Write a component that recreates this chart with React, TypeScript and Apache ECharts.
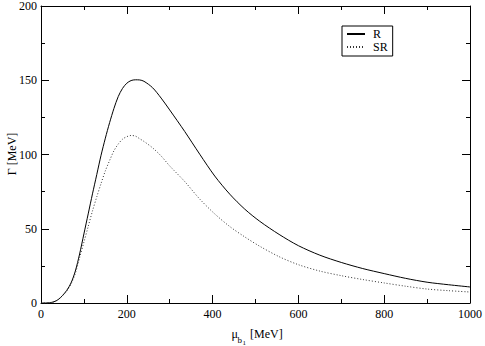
import React, { useEffect, useRef } from "react";
import * as echarts from "echarts";

const xValues = [0, 10, 20, 30, 40, 50, 60, 70, 80, 90, 100, 110, 120, 130, 140, 150, 160, 170, 180, 190, 200, 210, 220, 230, 240, 260, 280, 300, 335, 370, 405, 440, 475, 510, 555, 600, 650, 700, 750, 800, 850, 900, 950, 1000];
const rValues = [0, 0, 0.2, 0.8, 2.3, 5, 8.5, 13.5, 21.5, 33, 46.5, 60, 73.5, 86.5, 99.5, 111, 121.5, 131, 139, 144.5, 148, 149.8, 150.3, 150.2, 149.3, 145, 138, 130, 115.5, 100.2, 85.5, 73.3, 63.2, 55, 46.2, 38.6, 32.2, 27.3, 23.2, 19.8, 16.6, 14, 12.3, 10.8];
const srValues = [0, 0, 0.2, 0.8, 2.2, 4.8, 8, 12.8, 20, 30.5, 41, 51.5, 62, 71.5, 80.5, 89, 96, 102.5, 107, 110.3, 112, 112.8, 112.4, 110.6, 108.8, 104.5, 99, 92.3, 81.8, 70, 60, 51.5, 44.5, 38.2, 31.2, 25.8, 21.5, 18.4, 15.8, 13.5, 11.3, 9.4, 8.3, 7.4];
const seriesNames = ["R", "SR"];
const xTickLabels = ["0", "200", "400", "600", "800", "1000"];
const xTitle = { mu: "μ", sub: "b", subsub: "1", unit: "[MeV]" };
const yTitle = "Γ [MeV]";

const FONT = "Liberation Serif";

export default function App() {
  const ref = useRef<HTMLDivElement>(null);
  useEffect(() => {
    if (!ref.current) return;
    const chart = echarts.init(ref.current, undefined, { renderer: "svg" });
    const axisCommon = {
      type: "value" as const,
      axisLine: { show: true, onZero: false, lineStyle: { color: "#000", width: 1 } },
      axisTick: { show: true, inside: true, length: 8, lineStyle: { color: "#000", width: 1 } },
      minorTick: { show: true, splitNumber: 2, length: 4, lineStyle: { color: "#000", width: 1 } },
      splitLine: { show: false },
      minorSplitLine: { show: false },
    };
    const xAxisBase = { ...axisCommon, min: 0, max: 1000, interval: 200 };
    const yAxisBase = { ...axisCommon, min: 0, max: 200, interval: 50 };
    chart.setOption({
      animation: false,
      backgroundColor: "#fff",
      textStyle: { fontFamily: FONT },
      grid: { left: 41, right: 13, top: 5, bottom: 43, containLabel: false },
      xAxis: [
        {
          ...xAxisBase,
          position: "bottom",
          axisLabel: {
            show: true,
            color: "#000",
            fontFamily: FONT,
            fontSize: 12,
            margin: 5,
            formatter: (v: number) => xTickLabels[Math.round(v / 200)] ?? String(v),
          },
        },
        { ...xAxisBase, position: "top", axisLabel: { show: false } },
      ],
      yAxis: [
        {
          ...yAxisBase,
          position: "left",
          axisLabel: { show: true, color: "#000", fontFamily: FONT, fontSize: 12, margin: 4 },
        },
        { ...yAxisBase, position: "right", axisLabel: { show: false } },
      ],
      legend: {
        show: true,
        orient: "vertical",
        left: 342,
        top: 26,
        itemWidth: 18,
        itemHeight: 10,
        itemGap: 1,
        padding: [2, 5, 3, 4],
        borderColor: "#000",
        borderWidth: 1,
        backgroundColor: "#fff",
        itemStyle: { opacity: 0 },
        textStyle: { color: "#000", fontFamily: FONT, fontSize: 12, padding: [0, 0, 0, 3] },
        data: seriesNames,
      },
      series: [
        {
          name: seriesNames[0],
          type: "line",
          data: xValues.map((x, i) => [x, rValues[i]]),
          symbol: "none",
          smooth: 0.3,
          lineStyle: { color: "#000", width: 1, type: "solid" },
          itemStyle: { color: "#000" },
        },
        {
          name: seriesNames[1],
          type: "line",
          data: xValues.map((x, i) => [x, srValues[i]]),
          symbol: "none",
          smooth: 0.3,
          lineStyle: { color: "#333", width: 1, type: [1, 2] },
          itemStyle: { color: "#333" },
        },
      ],
      graphic: [
        {
          type: "text",
          x: 12,
          y: 154,
          rotation: Math.PI / 2,
          style: { text: yTitle, fill: "#000", fontFamily: FONT, fontSize: 12, align: "center", verticalAlign: "middle" },
        },
        {
          type: "text",
          x: 231.5,
          y: 334,
          style: { text: xTitle.mu, fill: "#000", fontFamily: FONT, fontSize: 12, align: "left", verticalAlign: "middle" },
        },
        {
          type: "text",
          x: 237.5,
          y: 340,
          style: { text: xTitle.sub, fill: "#000", fontFamily: FONT, fontSize: 9, align: "left", verticalAlign: "middle" },
        },
        {
          type: "text",
          x: 242.5,
          y: 342.5,
          style: { text: xTitle.subsub, fill: "#000", fontFamily: FONT, fontSize: 7, align: "left", verticalAlign: "middle" },
        },
        {
          type: "text",
          x: 250,
          y: 334,
          style: { text: xTitle.unit, fill: "#000", fontFamily: FONT, fontSize: 12, align: "left", verticalAlign: "middle" },
        },
      ],
    });
    return () => chart.dispose();
  }, []);
  return <div ref={ref} style={{ position: "fixed", left: 0, top: 0, width: 485, height: 346 }} />;
}
